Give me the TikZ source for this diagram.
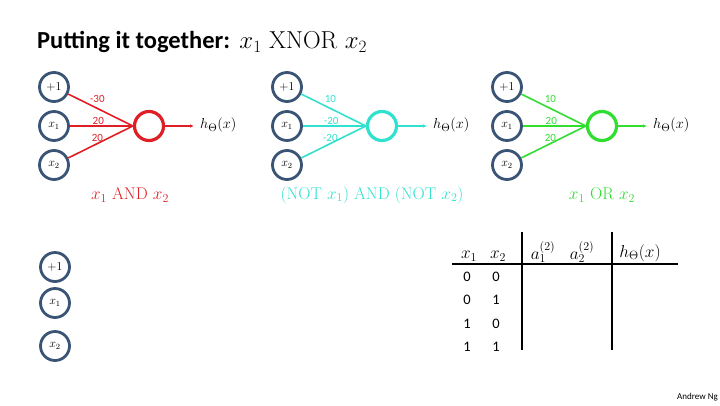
\documentclass[tikz,border=0pt]{standalone}
\usepackage{fontspec}
\setsansfont{Carlito}
\usetikzlibrary{arrows.meta}
\definecolor{unit-blue}{RGB}{58,84,118}
\definecolor{and-red}{RGB}{222,32,38}
\definecolor{nor-cyan}{RGB}{48,226,206}
\definecolor{or-green}{RGB}{48,222,48}
\tikzset{
    input unit/.style={
        circle,
        draw=unit-blue,
        line width=2.8pt,
        minimum size=29pt,
        inner sep=0pt,
        font=\fontsize{12}{14}\selectfont
    },
    output unit/.style={
        circle,
        line width=3.2pt,
        minimum size=29pt,
        inner sep=0pt
    },
    weight line/.style={
        line width=1.6pt
    },
    weight label/.style={
        font=\sffamily\fontsize{11}{13}\selectfont,
        inner sep=1pt
    },
    gate label/.style={
        font=\fontsize{17}{20}\selectfont,
        inner sep=0pt
    },
    table head/.style={
        font=\fontsize{17}{20}\selectfont,
        inner sep=0pt
    },
    table digit/.style={
        font=\sffamily\fontsize{14.5}{17}\selectfont,
        inner sep=0pt
    },
    table rule/.style={
        line width=1.6pt
    }
}
\begin{document}
\begin{tikzpicture}[x=1pt,y=-1pt]
    \useasboundingbox (0,0) rectangle (720,405);
    \node[anchor=west, inner sep=0pt, font=\sffamily\bfseries\fontsize{24.5}{28}\selectfont] (title) at (37,42) {Putting it together:};
    \node[anchor=west, inner sep=0pt, font=\fontsize{24.5}{28}\selectfont] (title-gate) at ([xshift=9pt]title.east) {$x_1\ \mathrm{XNOR}\ x_2$};
    \foreach \p/\px/\col/\wa/\wb/\wc/\lx/\gate in {
        and/54/and-red/-30/20/20/130/{$x_1$ AND $x_2$},
        nor/287/nor-cyan/10/-20/-20/372/{(NOT $x_1$) AND (NOT $x_2$)},
        or/507/or-green/10/20/20/602/{$x_1$ OR $x_2$}} {
        \node[input unit] (\p-one) at (\px,87) {$+1$};
        \node[input unit] (\p-x1) at (\px,126) {$x_1$};
        \node[input unit] (\p-x2) at (\px,165) {$x_2$};
        \node[output unit, draw=\col] (\p-unit) at (\px+95,126) {};
        \coordinate (\p-end) at (\px+140,126);
        \node[anchor=west, inner sep=0pt, font=\fontsize{15.5}{18}\selectfont] (\p-h) at (\px+146,125) {$h_\Theta(x)$};
        \draw[weight line, color=\col] (\p-one) -- node[weight label, text=\col, above=4pt, pos=0.45] (\p-w1) {\wa} (\p-unit.west);
        \draw[weight line, color=\col] (\p-x1) -- node[weight label, text=\col, above, pos=0.45] (\p-w2) {\wb} (\p-unit.west);
        \draw[weight line, color=\col] (\p-x2) -- node[weight label, text=\col, above, pos=0.45] (\p-w3) {\wc} (\p-unit.west);
        \draw[weight line, color=\col, -{Latex[length=4pt,width=3.5pt]}] (\p-unit) -- (\p-end);
        \node[gate label, text=\col] (\p-gate) at (\lx,195) {\gate};
    }
    \node[input unit] (net-one) at (55,267) {$+1$};
    \node[input unit] (net-x1) at (55,303) {$x_1$};
    \node[input unit] (net-x2) at (55,346) {$x_2$};
    \node[table head] (head-x1) at (469,256) {$x_1$};
    \node[table head] (head-x2) at (498,256) {$x_2$};
    \node[table head] (head-a1) at (543,252) {$a_1^{(2)}$};
    \node[table head] (head-a2) at (582,252) {$a_2^{(2)}$};
    \node[table head] (head-h) at (640,253) {$h_\Theta(x)$};
    \draw[table rule] (452,264) -- (678,264);
    \draw[table rule] (522,232) -- (522,350);
    \draw[table rule] (612,232) -- (612,350);
    \foreach \a/\b/\y [count=\r] in {0/0/277, 0/1/300, 1/0/324, 1/1/347} {
        \node[table digit] (row-\r-a) at (467,\y) {\a};
        \node[table digit] (row-\r-b) at (496,\y) {\b};
    }
    \node[anchor=east, inner sep=0pt, font=\sffamily\fontsize{9}{10}\selectfont] (credit) at (718,397) {Andrew Ng};
\end{tikzpicture}
\end{document}
